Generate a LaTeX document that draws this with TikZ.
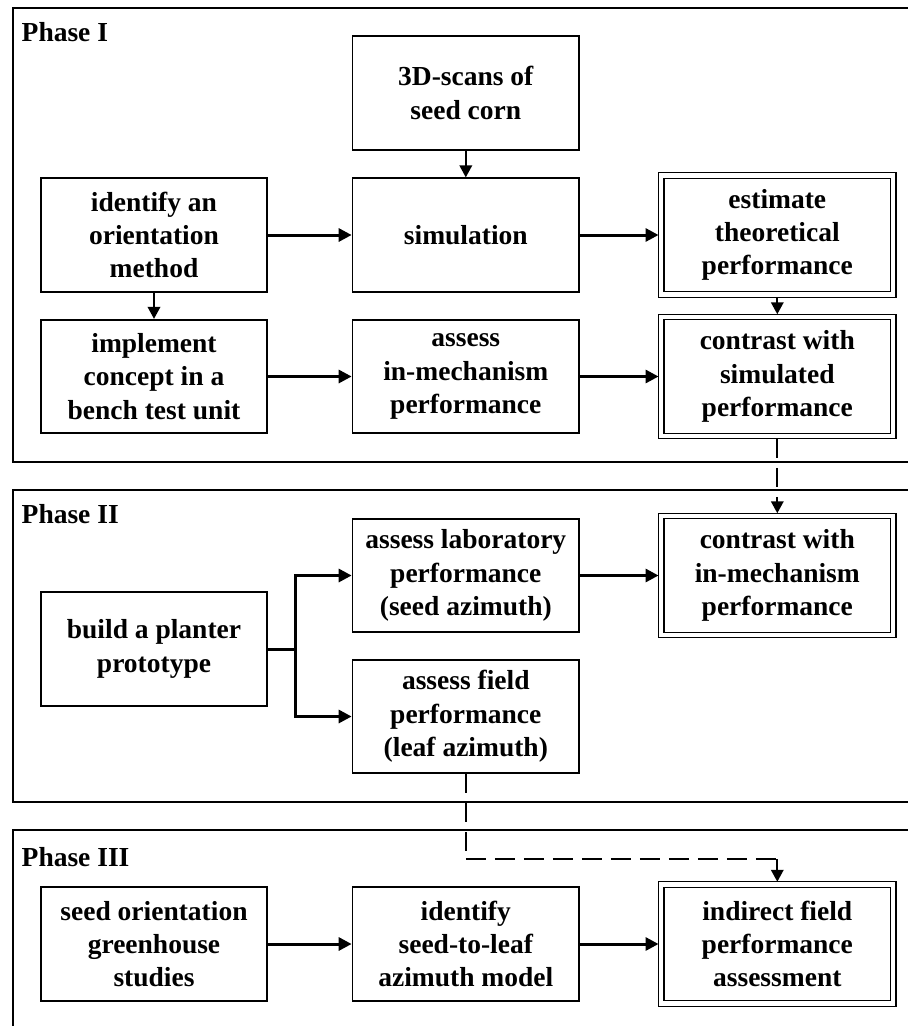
\documentclass[tikz,border=0pt]{standalone}
\usepackage{fontspec}
\setmainfont{Liberation Serif}
\usetikzlibrary{arrows.meta}
\begin{document}
\begin{tikzpicture}[x=1pt,y=-1pt,
  box/.style={draw,line width=1.8pt,minimum width=226.5pt,minimum height=113.5pt,inner sep=0pt,align=center,
    font=\fontsize{27.5}{33.3}\selectfont\bfseries},
  dbox/.style={box,line width=1.4pt,outer sep=5.5pt},
  panel/.style={draw,line width=1.8pt},
  plabel/.style={anchor=west,inner sep=0pt,font=\fontsize{27.5}{33}\selectfont\bfseries},
  harrow/.style={line width=3pt,-{Triangle[length=13pt,width=13pt]}},
  varrow/.style={line width=2pt,-{Triangle[length=12pt,width=12.5pt]}},
  dline/.style={line width=2pt,dash pattern=on 19pt off 10pt},
  hdline/.style={line width=2.8pt,dash pattern=on 20pt off 9pt}
]
\useasboundingbox (0,0) rectangle (908,1026);
\begin{scope}
\clip (0,0) rectangle (908,1026);
% panels
\draw[panel] (930,8.3) -- (12.7,8.3) -- (12.7,461.7) -- (930,461.7);
\draw[panel] (930,490) -- (12.7,490) -- (12.7,801.7) -- (930,801.7);
\draw[panel] (930,830) -- (12.7,830) -- (12.7,1040);
\end{scope}
\node[plabel] (p1) at (21.5,32) {Phase I};
\node[plabel] (p2) at (21.5,514) {Phase II};
\node[plabel] (p3) at (21.5,857) {Phase III};

% Phase I
\node[box] (scan) at (465.8,93) {3D-scans of\\seed corn};
\node[box] (ident) at (154,235) {identify an\\orientation\\method};
\node[box] (sim) at (465.8,235) {simulation};
\node[dbox] (est) at (777.3,235) {estimate\\theoretical\\performance};
\node[box] (impl) at (154,376.5) {implement\\concept in a\\bench test unit};
\node[box] (ass) at (465.8,376.5) {assess\\in-mechanism\\performance};
\node[dbox] (con1) at (777.3,376.5) {contrast with\\simulated\\performance};

% Phase II
\node[box] (lab) at (465.8,575.5) {assess laboratory\\performance\\(seed azimuth)};
\node[dbox] (con2) at (777.3,575.5) {contrast with\\in-mechanism\\performance};
\node[box] (build) at (154,649) {build a planter\\prototype};
\node[box] (field) at (465.8,716.5) {assess field\\performance\\(leaf azimuth)};

% Phase III
\node[box] (seed) at (154,944) {seed orientation\\greenhouse\\studies};
\node[box] (model) at (465.8,944) {identify\\seed-to-leaf\\azimuth model};
\node[dbox] (ind) at (777.3,944) {indirect field\\performance\\assessment};

% outer frames of double boxes
\foreach \n in {est,con1,con2,ind}
  \draw[line width=1.4pt] (\n.north west) rectangle (\n.south east);

% connectors Phase I
\draw[varrow] (scan) -- (sim);
\draw[harrow] (ident) -- (sim);
\draw[harrow] (sim) -- (est);
\draw[varrow] (ident) -- (impl);
\draw[varrow] (est) -- (con1);
\draw[harrow] (impl) -- (ass);
\draw[harrow] (ass) -- (con1);
\draw[dline,-{Triangle[length=12pt,width=12.5pt]}] (con1) -- (con2);

% Phase II
\coordinate (br) at (295.3,649);
\draw[line width=3pt] (build.east) -- (br);
\draw[harrow] (br) |- (lab.west);
\draw[harrow] (br) |- (field.west);
\draw[harrow] (lab) -- (con2);

% Phase III
\coordinate (c1) at (465.8,859);
\coordinate (c2) at (777.3,859);
\draw[dline] (field.south) -- (c1);
\draw[hdline] (c1) -- (c2);
\draw[varrow] (c2) -- (ind.north);
\draw[harrow] (seed) -- (model);
\draw[harrow] (model) -- (ind);
\end{tikzpicture}
\end{document}
